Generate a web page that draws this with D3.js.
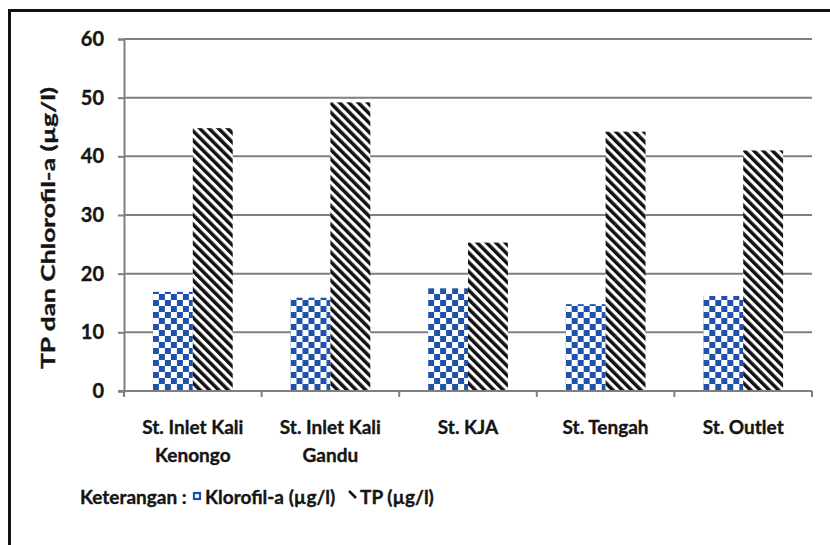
<!DOCTYPE html>
<html>
<head>
<meta charset="utf-8">
<script src="https://cdn.jsdelivr.net/npm/d3@7"></script>
<style>
  html, body { margin: 0; padding: 0; background: #fff; }
  svg text { font-family: "Lato", "Open Sans", sans-serif; font-weight: bold; fill: #151515; stroke: #151515; stroke-width: 0.35px; }
</style>
</head>
<body>
<svg id="chart" width="830" height="545"></svg>
<script>
// Station names (two-line labels) and measured values
const stations = ["St. Inlet Kali Kenongo", "St. Inlet Kali Gandu", "St. KJA", "St. Tengah", "St. Outlet"];
const stationLines = [["St. Inlet Kali", "Kenongo"], ["St. Inlet Kali", "Gandu"], ["St. KJA"], ["St. Tengah"], ["St. Outlet"]];
const seriesNames = ["Klorofil-a (µg/l)", "TP (µg/l)"];
const klorofil = [16.9, 15.9, 17.5, 14.8, 16.2];
const tp = [44.8, 49.2, 25.3, 44.2, 41.0];
const yTicks = [0, 10, 20, 30, 40, 50, 60];

const svg = d3.select("#chart");
const W = 830, H = 545;
const plot = { left: 124, right: 812, top: 39, bottom: 391 };

// Fill patterns: blue checkerboard and black diagonal hatch
const defs = svg.append("defs");
const checker = defs.append("pattern")
  .attr("id", "checker").attr("patternUnits", "userSpaceOnUse")
  .attr("width", 12).attr("height", 12);
checker.append("rect").attr("width", 12).attr("height", 12).attr("fill", "#fff");
checker.append("rect").attr("width", 6).attr("height", 6).attr("fill", "#1f52ad");
checker.append("rect").attr("x", 6).attr("y", 6).attr("width", 6).attr("height", 6).attr("fill", "#1f52ad");

const hatch = defs.append("pattern")
  .attr("id", "hatch").attr("patternUnits", "userSpaceOnUse")
  .attr("width", 6.6).attr("height", 20)
  .attr("patternTransform", "rotate(-45)");
hatch.append("rect").attr("width", 6.6).attr("height", 20).attr("fill", "#fff");
hatch.append("rect").attr("width", 3.5).attr("height", 20).attr("fill", "#111");

// Frame lines along the top and left edges
svg.append("line").attr("x1", 8).attr("x2", W).attr("y1", 10.5).attr("y2", 10.5)
  .attr("stroke", "#111").attr("stroke-width", 3);
svg.append("line").attr("x1", 9.5).attr("x2", 9.5).attr("y1", 9).attr("y2", H)
  .attr("stroke", "#111").attr("stroke-width", 3);

// Scales
const y = d3.scaleLinear().domain([0, 60]).range([plot.bottom, plot.top]);
const x0 = d3.scaleBand().domain(stations).range([plot.left, plot.right])
  .paddingInner(0.42).paddingOuter(0.21);
const x1 = d3.scaleBand().domain(seriesNames).range([0, x0.bandwidth()]).padding(0);

// Gridlines
svg.append("g").selectAll("line").data(yTicks.filter(d => d > 0)).join("line")
  .attr("x1", plot.left).attr("x2", plot.right)
  .attr("y1", d => y(d)).attr("y2", d => y(d))
  .attr("stroke", "#7f7f7f").attr("stroke-width", 2);

// Y axis
const yAxis = svg.append("g").attr("transform", `translate(${plot.left},0)`)
  .call(d3.axisLeft(y).tickValues(yTicks).tickSize(6).tickPadding(14));
yAxis.select(".domain").attr("stroke", "#7f7f7f").attr("stroke-width", 2);
yAxis.selectAll(".tick line").attr("stroke", "#7f7f7f").attr("stroke-width", 2);
yAxis.selectAll(".tick text").attr("font-size", 20).attr("fill", "#151515")
  .style("font-family", "Lato, sans-serif").style("font-weight", "bold");

// Bars
const rows = stations.map((s, i) => ({ station: s, values: [klorofil[i], tp[i]] }));
const groups = svg.append("g").selectAll("g").data(rows).join("g")
  .attr("transform", d => `translate(${x0(d.station)},0)`);
groups.selectAll("rect").data(d => d.values.map((v, k) => ({ key: seriesNames[k], v, k })))
  .join("rect")
  .attr("x", d => x1(d.key))
  .attr("width", x1.bandwidth())
  .attr("y", d => y(d.v))
  .attr("height", d => y(0) - y(d.v))
  .attr("fill", d => d.k === 0 ? "url(#checker)" : "url(#hatch)");

// X axis with ticks at category boundaries
const step = x0.step();
const bounds = d3.range(stations.length + 1).map(i => plot.left + i * step);
svg.append("line").attr("x1", plot.left - 6).attr("x2", plot.right)
  .attr("y1", y(0)).attr("y2", y(0)).attr("stroke", "#7f7f7f").attr("stroke-width", 2);
svg.append("g").selectAll("line").data(bounds).join("line")
  .attr("x1", d => d).attr("x2", d => d)
  .attr("y1", y(0)).attr("y2", y(0) + 6)
  .attr("stroke", "#7f7f7f").attr("stroke-width", 2);

// Category labels
const lab = svg.append("g").selectAll("text").data(stations).join("text")
  .attr("x", d => x0(d) + x0.bandwidth() / 2)
  .attr("y", 434)
  .attr("text-anchor", "middle")
  .attr("font-size", 19);
lab.selectAll("tspan").data((d, i) => stationLines[i]).join("tspan")
  .attr("x", function () { return this.parentNode.getAttribute("x"); })
  .attr("dy", (d, i) => i === 0 ? 0 : 28)
  .text(d => d);

// Y-axis title
svg.append("text")
  .attr("transform", "translate(55,228) rotate(-90)")
  .attr("text-anchor", "middle")
  .attr("font-size", 19)
  .attr("textLength", 282)
  .attr("lengthAdjust", "spacingAndGlyphs")
  .text("TP dan Chlorofil-a  (µg/l)");

// Legend
const lg = svg.append("g");
lg.append("text").attr("x", 80).attr("y", 504).attr("font-size", 19).text("Keterangan :");
lg.append("rect").attr("x", 194).attr("y", 493).attr("width", 6).attr("height", 6)
  .attr("fill", "#fff").attr("stroke", "#1f52ad").attr("stroke-width", 2.2);
lg.append("text").attr("x", 205).attr("y", 504).attr("font-size", 19).text(seriesNames[0]);
lg.append("line").attr("x1", 349).attr("y1", 491).attr("x2", 356).attr("y2", 498)
  .attr("stroke", "#111").attr("stroke-width", 2.5);
lg.append("text").attr("x", 360).attr("y", 504).attr("font-size", 19).text(seriesNames[1]);
</script>
</body>
</html>
